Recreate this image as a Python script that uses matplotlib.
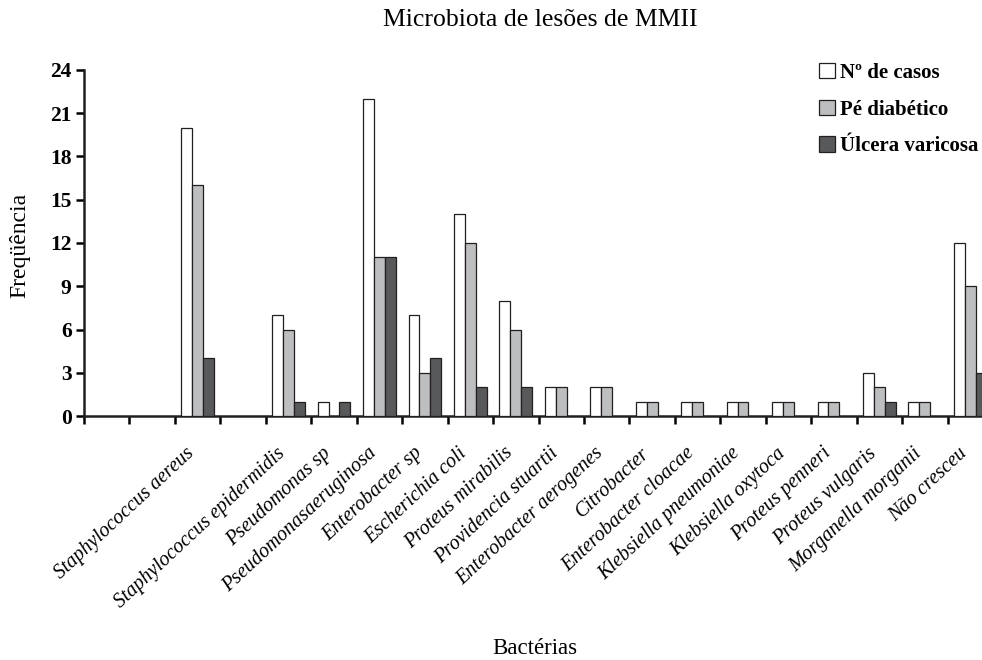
import numpy as np
import matplotlib
matplotlib.use('Agg')
import matplotlib.pyplot as plt
import matplotlib.transforms as mtransforms
from matplotlib.patches import Patch

plt.rcParams['font.family'] = ['Liberation Serif', 'DejaVu Serif']

bacterias = ['', '', 'Staphylococcus aereus', '', 'Staphylococcus epidermidis',
             'Pseudomonas sp', 'Pseudomonasaeruginosa', 'Enterobacter sp',
             'Escherichia coli', 'Proteus mirabilis', 'Providencia stuartii',
             'Enterobacter aerogenes', 'Citrobacter', 'Enterobacter cloacae',
             'Klebsiella pneumoniae', 'Klebsiella oxytoca', 'Proteus penneri',
             'Proteus vulgaris', 'Morganella morganii', 'Não cresceu']
casos = [0, 0, 20, 0, 7, 1, 22, 7, 14, 8, 2, 2, 1, 1, 1, 1, 1, 3, 1, 12]
pe_diabetico = [0, 0, 16, 0, 6, 0, 11, 3, 12, 6, 2, 2, 1, 1, 1, 1, 1, 2, 1, 9]
ulcera = [0, 0, 4, 0, 1, 1, 11, 4, 2, 2, 0, 0, 0, 0, 0, 0, 0, 1, 0, 3]
series = ['Nº de casos', 'Pé diabético', 'Úlcera varicosa']
cores = ['#ffffff', '#bcbec0', '#58595b']
yticks = [0, 3, 6, 9, 12, 15, 18, 21, 24]

fig = plt.figure(figsize=(9.82, 6.6), dpi=100)
ax = fig.add_axes([84 / 982, 244 / 660, 909 / 982, 346 / 660])

x = np.arange(len(bacterias))
w = 0.24
for i, vals in enumerate([casos, pe_diabetico, ulcera]):
    v = np.array(vals, dtype=float)
    m = v > 0
    ax.bar(x[m] + (i - 1) * w, v[m], width=w, color=cores[i],
           edgecolor='#231f20', linewidth=0.9, zorder=3)

ax.set_xlim(-0.5, len(bacterias) - 0.5)
ax.set_ylim(0, 24)
ax.set_yticks(yticks)
ax.set_yticklabels([str(t) for t in yticks], fontsize=15.5, fontweight='bold')

ax.set_xticks(np.arange(-0.5, len(bacterias)), minor=True)
ax.set_xticks(x)
ax.set_xticklabels(bacterias, rotation=43, ha='right', rotation_mode='anchor',
                   fontsize=14.5, fontstyle='italic')
ax.tick_params(axis='x', which='major', length=0, pad=20)
ax.tick_params(axis='x', which='minor', length=6, width=1.8, direction='out')
ax.tick_params(axis='y', length=6, width=1.8, direction='out', pad=3)
offset = mtransforms.ScaledTranslation(-12 / 100, 0, fig.dpi_scale_trans)
for lab in ax.get_xticklabels():
    lab.set_transform(lab.get_transform() + offset)

for s in ['top', 'right']:
    ax.spines[s].set_visible(False)
for s in ['left', 'bottom']:
    ax.spines[s].set_linewidth(1.8)
    ax.spines[s].set_color('#231f20')

fig.text(540 / 982, 1 - 20 / 660, 'Microbiota de lesões de MMII', ha='center',
         va='center', fontsize=18.5)
fig.text(20 / 982, 1 - 245 / 660, 'Freqüência', rotation=90, ha='center',
         va='center', fontsize=17)
fig.text(535 / 982, 1 - 649 / 660, 'Bactérias', ha='center', va='center',
         fontsize=16.5)

handles = [Patch(facecolor=c, edgecolor='#231f20', linewidth=0.9) for c in cores]
fig.legend(handles, series, loc='upper left',
           bbox_to_anchor=(819 / 982, 1 - 63 / 660), frameon=False,
           prop={'size': 15, 'weight': 'bold'}, handlelength=0.75,
           handleheight=0.75, handletextpad=0.25, labelspacing=0.8,
           borderpad=0, borderaxespad=0)

fig.savefig('out.png', dpi=100)
